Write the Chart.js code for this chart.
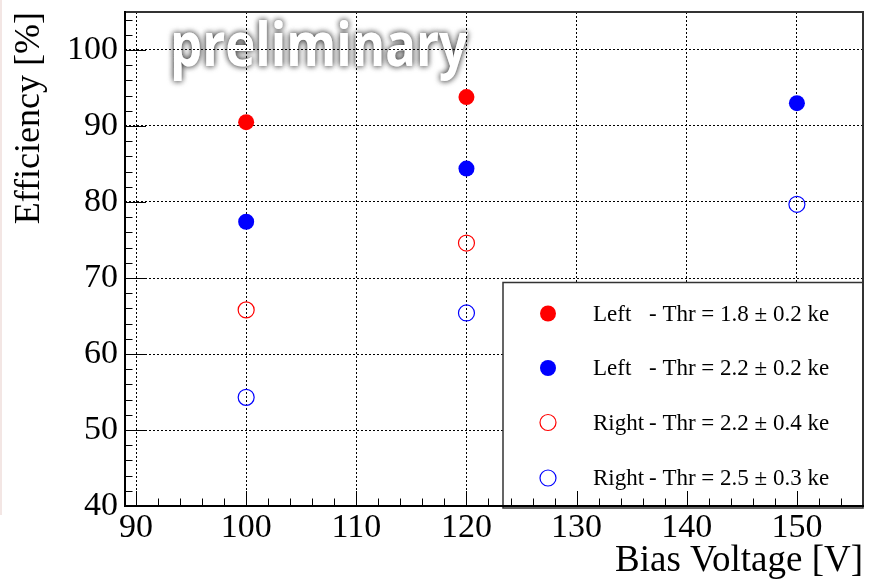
<!DOCTYPE html>
<html><head><meta charset="utf-8">
<script src="https://cdn.jsdelivr.net/npm/chart.js@4/dist/chart.umd.min.js"></script>
<style>
html,body{margin:0;padding:0;background:#fff;}
#wrap{position:relative;width:883px;height:583px;}
#edge{position:absolute;left:0;top:0;width:2px;height:515px;background:#f3e6e4;}
</style>
</head><body><div id="wrap"><div id="edge"></div><canvas id="c" width="883" height="583"></canvas></div>
<script>
// ---- data ----
const xTickLabels = [90, 100, 110, 120, 130, 140, 150];
const yTickLabels = [40, 50, 60, 70, 80, 90, 100];

const leftThr18Volt = [100, 120];
const leftThr18Eff  = [90.5, 93.8];
const leftThr22Volt = [100, 120, 150];
const leftThr22Eff  = [77.4, 84.4, 93.0];
const rightThr22Volt = [100, 120];
const rightThr22Eff  = [65.8, 74.6];
const rightThr25Volt = [100, 120, 150];
const rightThr25Eff  = [54.3, 65.4, 79.7];

const seriesNames = ['Left', 'Left', 'Right', 'Right'];
const seriesThr = ['- Thr = 1.8 \u00b1 0.2 ke', '- Thr = 2.2 \u00b1 0.2 ke', '- Thr = 2.2 \u00b1 0.4 ke', '- Thr = 2.5 \u00b1 0.3 ke'];

const pts = (xs, ys) => xs.map((x, i) => ({x: x, y: ys[i]}));
const SERIF = '"Liberation Serif", "Times New Roman", serif';

const datasets = [
  {data: pts(leftThr18Volt, leftThr18Eff), backgroundColor: '#ff0000', borderColor: '#ff0000', borderWidth: 0, pointRadius: 8, filled: true},
  {data: pts(leftThr22Volt, leftThr22Eff), backgroundColor: '#0000ff', borderColor: '#0000ff', borderWidth: 0, pointRadius: 8, filled: true},
  {data: pts(rightThr22Volt, rightThr22Eff), backgroundColor: 'rgba(0,0,0,0)', borderColor: '#ff0000', borderWidth: 1.2, pointRadius: 8, filled: false},
  {data: pts(rightThr25Volt, rightThr25Eff), backgroundColor: 'rgba(0,0,0,0)', borderColor: '#0000ff', borderWidth: 1.2, pointRadius: 8, filled: false}
];
datasets.forEach((d, i) => { d.label = seriesNames[i] + ' ' + seriesThr[i]; d.pointHoverRadius = 8; d.showLine = false; });

const watermark = {
  id: 'watermark',
  beforeDraw(chart) {
    const ctx = chart.ctx;
    ctx.save();
    ctx.font = 'bold 60px "Open Sans", sans-serif';
    ctx.textAlign = 'center';
    ctx.textBaseline = 'alphabetic';
    ctx.shadowColor = 'rgba(0,0,0,0.55)';
    ctx.shadowBlur = 6;
    ctx.fillStyle = '#ffffff';
    ctx.fillText('preliminary', 319, 66, 298);
    ctx.fillText('preliminary', 319, 66, 298);
    ctx.restore();
  }
};

const frameAndLegend = {
  id: 'frameAndLegend',
  afterDatasetsDraw(chart) {
    const ctx = chart.ctx;
    const bx = 503, by = 282.5, bw = 360, bh = 225.5;
    ctx.save();
    ctx.fillStyle = '#fff';
    ctx.fillRect(bx, by, bw, bh);
    ctx.strokeStyle = '#333';
    ctx.lineWidth = 1.5;
    ctx.strokeRect(bx, by, bw, bh);
    const rowY = [313.5, 368, 422.5, 478];
    ctx.font = '23px ' + SERIF;
    ctx.textBaseline = 'middle';
    ctx.textAlign = 'left';
    datasets.forEach((d, i) => {
      ctx.beginPath();
      ctx.arc(548, rowY[i], 8, 0, Math.PI * 2);
      if (d.filled) { ctx.fillStyle = d.backgroundColor; ctx.fill(); }
      else { ctx.strokeStyle = d.borderColor; ctx.lineWidth = 1.2; ctx.stroke(); }
      ctx.fillStyle = '#000';
      ctx.fillText(seriesNames[i], 593, rowY[i] + 1);
      ctx.fillText(seriesThr[i], 649, rowY[i] + 1);
    });
    ctx.restore();
  },
  afterDraw(chart) {
    const ctx = chart.ctx;
    const a = chart.chartArea;
    const xs = chart.scales.x, ys = chart.scales.y;
    ctx.save();
    ctx.strokeStyle = '#000';
    ctx.lineWidth = 1;
    ctx.beginPath();
    for (let v = 90; v <= 156; v += 2) {
      const px = Math.round(xs.getPixelForValue(v)) + 0.5;
      const len = (v % 10 === 0) ? 15 : 7.5;
      ctx.moveTo(px, a.bottom); ctx.lineTo(px, a.bottom - len);
    }
    for (let v = 40; v <= 105; v += 2) {
      const py = Math.round(ys.getPixelForValue(v)) + 0.5;
      const len = (v % 10 === 0) ? 21 : 7.5;
      ctx.moveTo(a.left, py); ctx.lineTo(a.left + len, py);
    }
    ctx.stroke();
    ctx.strokeStyle = '#333';
    ctx.lineWidth = 2;
    ctx.beginPath();
    ctx.moveTo(a.left, a.top); ctx.lineTo(a.right, a.top); ctx.lineTo(a.right, a.bottom);
    ctx.stroke();
    ctx.strokeStyle = '#000';
    ctx.lineWidth = 2;
    ctx.beginPath();
    ctx.moveTo(a.left, a.top - 1); ctx.lineTo(a.left, a.bottom); ctx.lineTo(a.right + 1, a.bottom);
    ctx.stroke();
    ctx.restore();
  }
};

new Chart(document.getElementById('c'), {
  type: 'scatter',
  data: {datasets: datasets},
  plugins: [watermark, frameAndLegend],
  options: {
    responsive: false,
    animation: false,
    events: [],
    layout: {padding: {left: 0, right: 20, top: 12, bottom: 0}},
    plugins: {legend: {display: false}, tooltip: {enabled: false}},
    scales: {
      x: {
        type: 'linear', min: 89, max: 156,
        afterBuildTicks: s => { s.ticks = xTickLabels.map(v => ({value: v})); },
        afterFit: s => { s.height = 77; s.paddingLeft = 0; s.paddingRight = 0; },
        ticks: {color: '#000', font: {family: SERIF, size: 34}, padding: 2, maxRotation: 0, autoSkip: false},
        grid: {color: '#000', lineWidth: 1, drawTicks: false},
        border: {display: false, dash: [2, 2]},
        title: {display: true, text: 'Bias Voltage [V]', align: 'end', color: '#000', font: {family: SERIF, size: 37}, padding: {top: 0, bottom: 0}}
      },
      y: {
        type: 'linear', min: 40, max: 105,
        afterBuildTicks: s => { s.ticks = yTickLabels.map(v => ({value: v})); },
        afterFit: s => { s.width = 125; s.paddingTop = 0; s.paddingBottom = 0; },
        ticks: {color: '#000', font: {family: SERIF, size: 34}, padding: 7, autoSkip: false},
        grid: {color: '#000', lineWidth: 1, drawTicks: false},
        border: {display: false, dash: [2, 2]},
        title: {display: true, text: 'Efficiency [%]', align: 'end', color: '#000', font: {family: SERIF, size: 36}, padding: {top: 8, bottom: 0}}
      }
    }
  }
});
</script>
</body></html>
